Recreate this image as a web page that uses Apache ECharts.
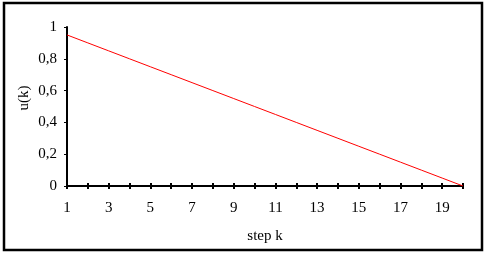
<!DOCTYPE html>
<html><head><meta charset="utf-8">
<script src="https://cdn.jsdelivr.net/npm/echarts@6/dist/echarts.min.js"></script>
<style>html,body{margin:0;padding:0;background:#fff}#c{width:486px;height:253px}</style>
</head><body><div id="c"></div>
<script>
const steps = ['1','2','3','4','5','6','7','8','9','10','11','12','13','14','15','16','17','18','19','20'];
const u = [0.95,0.9,0.85,0.8,0.75,0.7,0.65,0.6,0.55,0.5,0.45,0.4,0.35,0.3,0.25,0.2,0.15,0.1,0.05,0];
const yTicks = [0,0.2,0.4,0.6,0.8,1];
const yTitle = 'u(k)';
const xTitle = 'step k';
const font = 'Liberation Serif';
const chart = echarts.init(document.getElementById('c'), null, {renderer:'canvas'});
chart.setOption({
  animation:false,
  backgroundColor:'#fff',
  graphic:[
    {type:'rect',shape:{x:4,y:3,width:478,height:247},style:{fill:'none',stroke:'#000',lineWidth:2.5},z:100},
    {type:'text',x:24,y:98,rotation:Math.PI/2,style:{text:yTitle,fontFamily:font,fontSize:15,fill:'#000',align:'center',verticalAlign:'middle'}}
  ],
  grid:{left:67,right:23,top:27,bottom:67},
  xAxis:[{
    type:'category',data:steps,boundaryGap:false,
    name:xTitle,nameLocation:'middle',nameGap:43,
    nameTextStyle:{fontFamily:font,fontSize:15,color:'#000'},
    axisLine:{lineStyle:{color:'#000',width:2}},
    axisTick:{show:true,length:3,interval:0,lineStyle:{color:'#000',width:2}},
    axisLabel:{interval:1,margin:15,fontFamily:font,fontSize:15,color:'#000'},
    splitLine:{show:false}
  },{
    type:'category',data:steps,boundaryGap:false,position:'bottom',
    axisLine:{show:false},
    axisTick:{show:true,inside:true,length:3,interval:0,lineStyle:{color:'#000',width:2}},
    axisLabel:{show:false},splitLine:{show:false}
  }],
  yAxis:{
    type:'value',min:0,max:1,interval:0.2,
    axisLine:{show:true,lineStyle:{color:'#000',width:2}},
    axisTick:{show:true,length:3,lineStyle:{color:'#000',width:1}},
    axisLabel:{margin:10,fontFamily:font,fontSize:15,color:'#000',
      formatter:v=>{const t=yTicks.find(x=>Math.abs(x-v)<1e-9);return String(t!==undefined?t:v).replace('.',',');}},
    splitLine:{show:false}
  },
  series:[{type:'line',data:u,symbol:'none',lineStyle:{color:'#ff0000',width:1},itemStyle:{color:'#ff0000'}}]
});
</script></body></html>
